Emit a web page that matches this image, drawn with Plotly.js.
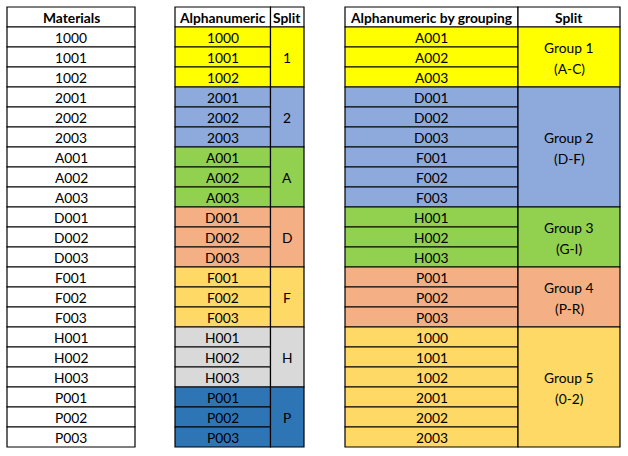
<!DOCTYPE html>
<html>
<head>
<meta charset="utf-8">
<script src="https://cdn.plot.ly/plotly-3.0.1.min.js"></script>
<style>html,body{margin:0;padding:0;background:#fff;}#chart{width:628px;height:456px;}</style>
</head>
<body>
<div id="chart"></div>
<script>
// ---- data ----
var headers1 = ['Materials'];
var headers2 = ['Alphanumeric', 'Split'];
var headers3 = ['Alphanumeric by grouping', 'Split'];
var materials = ['1000','1001','1002','2001','2002','2003','A001','A002','A003','D001','D002','D003','F001','F002','F003','H001','H002','H003','P001','P002','P003'];
var alphaSplitLabels = ['1','2','A','D','F','H','P'];
var alphaSplitSizes = [3,3,3,3,3,3,3];
var alphaSplitColors = ['#FFFF00','#8EA9DB','#92D050','#F4B084','#FFD966','#D9D9D9','#2E75B6'];
var grouping = ['A001','A002','A003','D001','D002','D003','F001','F002','F003','H001','H002','H003','P001','P002','P003','1000','1001','1002','2001','2002','2003'];
var groupNames = ['Group 1','Group 2','Group 3','Group 4','Group 5'];
var groupRanges = ['(A-C)','(D-F)','(G-I)','(P-R)','(0-2)'];
var groupSizes = [3,6,3,3,6];
var groupColors = ['#FFFF00','#8EA9DB','#92D050','#F4B084','#FFD966'];

// ---- layout geometry ----
var top0 = 7, rowH = 20;
var t1 = [7, 135];
var t2 = [175, 270.5, 304];
var t3 = [345, 518, 620];
var FONT = 'Lato, "Noto Sans", sans-serif';
var FS = 13.8;

var shapes = [], annotations = [];
function rect(x0, x1, y0, y1, fill) {
  shapes.push({type:'rect', xref:'x', yref:'y', x0:x0, x1:x1, y0:y0, y1:y1,
    fillcolor: fill, line:{color:'#000', width:1.2}, layer:'below'});
}
function label(x, y, txt, bold) {
  annotations.push({xref:'x', yref:'y', x:x, y:y, text: bold ? '<b>'+txt+'</b>' : txt,
    showarrow:false, xanchor:'center', yanchor:'middle',
    font:{family:FONT, size:FS, color:'#000'}});
}
function rowY(i) { return top0 + rowH * (i + 1); }

// headers
rect(t1[0], t1[1], top0, top0 + rowH, '#fff');
label((t1[0]+t1[1])/2, top0 + rowH/2 + 0.5, headers1[0], true);
rect(t2[0], t2[1], top0, top0 + rowH, '#fff');
rect(t2[1], t2[2], top0, top0 + rowH, '#fff');
label((t2[0]+t2[1])/2, top0 + rowH/2 + 0.5, headers2[0], true);
label((t2[1]+t2[2])/2, top0 + rowH/2 + 0.5, headers2[1], true);
rect(t3[0], t3[1], top0, top0 + rowH, '#fff');
rect(t3[1], t3[2], top0, top0 + rowH, '#fff');
label((t3[0]+t3[1])/2, top0 + rowH/2 + 0.5, headers3[0], true);
label((t3[1]+t3[2])/2, top0 + rowH/2 + 0.5, headers3[1], true);

// table 1
materials.forEach(function(m, i) {
  rect(t1[0], t1[1], rowY(i), rowY(i+1), '#fff');
  label((t1[0]+t1[1])/2, rowY(i) + rowH/2 + 0.5, m, false);
});

// table 2
var r = 0;
alphaSplitLabels.forEach(function(lab, g) {
  var n = alphaSplitSizes[g], c = alphaSplitColors[g];
  for (var k = 0; k < n; k++) {
    rect(t2[0], t2[1], rowY(r+k), rowY(r+k+1), c);
    label((t2[0]+t2[1])/2, rowY(r+k) + rowH/2 + 0.5, materials[r+k], false);
  }
  rect(t2[1], t2[2], rowY(r), rowY(r+n), c);
  label((t2[1]+t2[2])/2, (rowY(r) + rowY(r+n))/2 + 0.5, lab, false);
  r += n;
});

// table 3
r = 0;
groupNames.forEach(function(lab, g) {
  var n = groupSizes[g], c = groupColors[g];
  for (var k = 0; k < n; k++) {
    rect(t3[0], t3[1], rowY(r+k), rowY(r+k+1), c);
    label((t3[0]+t3[1])/2, rowY(r+k) + rowH/2 + 0.5, grouping[r+k], false);
  }
  rect(t3[1], t3[2], rowY(r), rowY(r+n), c);
  var mid = (rowY(r) + rowY(r+n))/2;
  label((t3[1]+t3[2])/2, mid - 10, lab, false);
  label((t3[1]+t3[2])/2, mid + 11, groupRanges[g], false);
  r += n;
});

var layout = {
  width: 628, height: 456,
  margin: {l:0, r:0, t:0, b:0},
  paper_bgcolor: '#fff', plot_bgcolor: '#fff',
  showlegend: false,
  xaxis: {range:[0,628], visible:false, fixedrange:true},
  yaxis: {range:[456,0], visible:false, fixedrange:true},
  shapes: shapes,
  annotations: annotations
};
Plotly.newPlot('chart', [{type:'scatter', x:[], y:[], mode:'markers', hoverinfo:'skip'}], layout, {staticPlot:true, displayModeBar:false});
</script>
</body>
</html>
